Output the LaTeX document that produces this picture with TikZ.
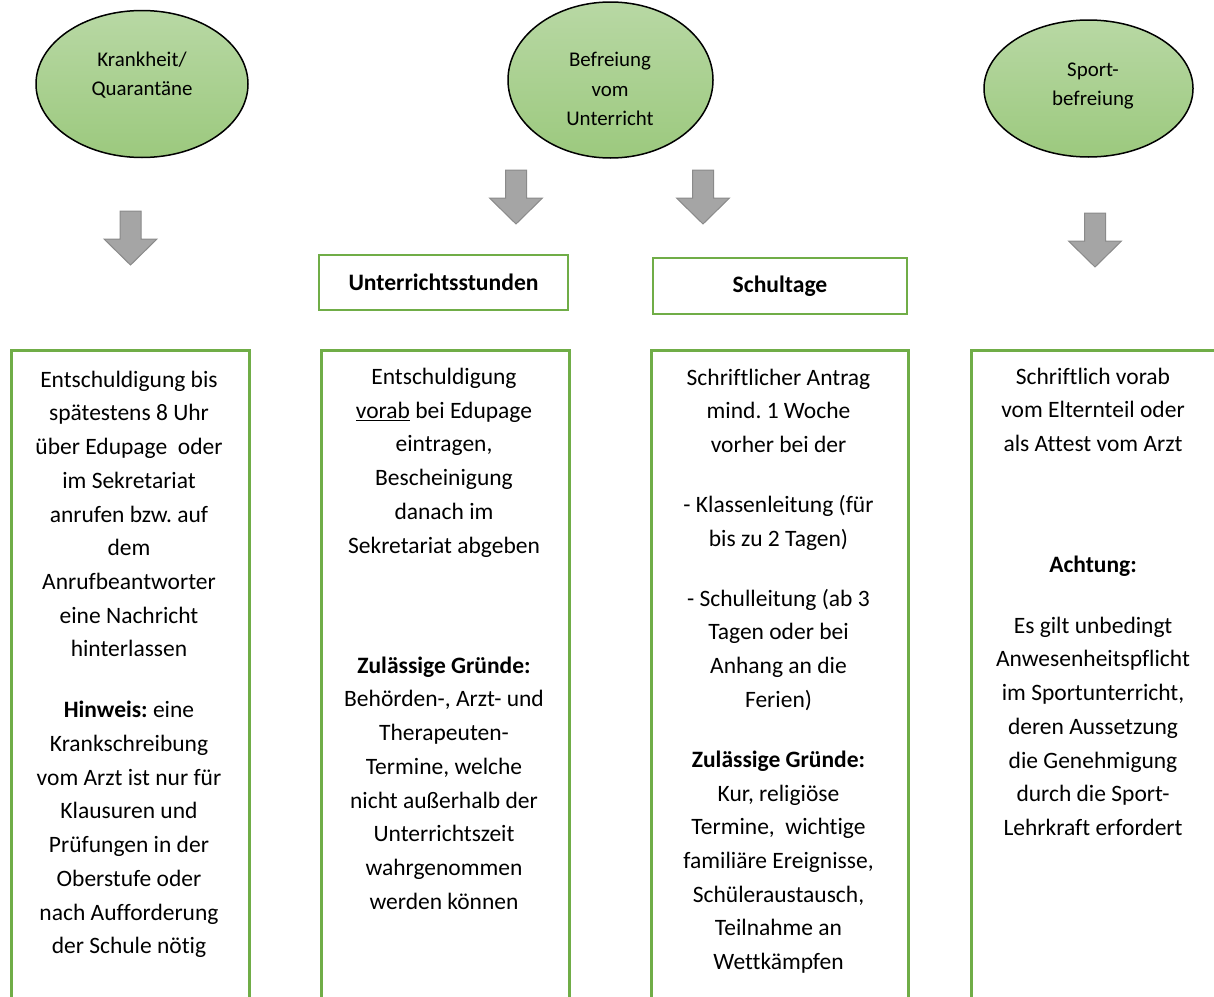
\documentclass[tikz,border=0pt]{standalone}
\usepackage{fontspec}
\setmainfont{Carlito}[Ligatures={NoCommon}]
\usetikzlibrary{shapes.geometric}
\definecolor{boxgreen}{HTML}{70AD47}
\definecolor{elltop}{HTML}{B8D8A4}
\definecolor{ellbot}{HTML}{9CC97E}
\definecolor{arrfill}{HTML}{A5A5A5}
\definecolor{arrdraw}{HTML}{8A8A8A}
\newcommand\fstrut{\rule{0pt}{20pt}}
\newcommand\estrut{\rule{0pt}{18pt}}
\frenchspacing
\begin{document}
\begin{tikzpicture}[x=1pt,y=-1pt,
  oval/.style={ellipse, draw=black, line width=1.5pt, top color=elltop, bottom color=ellbot, inner sep=0pt},
  ovaltext/.style={anchor=north, align=center, inner sep=0pt, font=\fontsize{20.9}{29.5}\selectfont},
  body/.style={anchor=north, align=center, inner sep=0pt, font=\fontsize{23.5}{33.7}\selectfont},
  headbox/.style={draw=boxgreen, line width=2.5pt, inner sep=0pt, font=\fontsize{23.6}{28}\selectfont\bfseries},
  panel/.style={draw=boxgreen, line width=2.5pt, inner sep=0pt, anchor=north west, minimum height=700pt},
  blockarrow/.pic={\draw[fill=arrfill, draw=arrdraw, line width=1pt, line join=miter]
     (-10.5,0) -- (10.5,0) -- (10.5,28) -- (26.5,28) -- (0,54) -- (-26.5,28) -- (-10.5,28) -- cycle;}
]
\useasboundingbox (0,0) rectangle (1214,996);
\clip (0,0) rectangle (1214,996);

% ellipses
\node[oval, minimum width=212pt, minimum height=147pt] (e1) at (142,84) {};
\node[oval, minimum width=205pt, minimum height=156pt] (e2) at (610.5,80) {};
\node[oval, minimum width=209pt, minimum height=137pt] (e3) at (1088.5,88.5) {};
\node[ovaltext] (t1) at (142,48) {\estrut Krankheit/\\Quarantäne};
\node[ovaltext] (t2) at (610,48.5) {\estrut Befreiung\\vom\\Unterricht};
\node[ovaltext] (t3) at (1093,58) {\estrut Sport-\\befreiung};

% block arrows
\pic (a1) at (130.5,211) {blockarrow};
\pic (a2) at (516,170) {blockarrow};
\pic (a3) at (703,170) {blockarrow};
\pic (a4) at (1095,213) {blockarrow};

% heading boxes
\node[headbox, minimum width=249pt, minimum height=55pt] (h1) at (443.5,282.5) {Unterrichtsstunden};
\node[headbox, minimum width=254pt, minimum height=56pt] (h2) at (780,286) {Schultage};

% panels
\node[panel, minimum width=238pt] (p1) at (10,349) {};
\node[panel, minimum width=248pt] (p2) at (320,349) {};
\node[panel, minimum width=257pt] (p3) at (650,349) {};
\node[panel, minimum width=250pt] (p4) at (970,349) {};

% panel 1 text
\node[body] (p1a) at (129,367) {\fstrut Entschuldigung bis\\spätestens 8 Uhr\\über Edupage\ \ oder\\im Sekretariat\\anrufen bzw. auf\\dem\\Anrufbeantworter\\eine Nachricht\\hinterlassen};
\node[body] (p1b) at (129,697.6) {\fstrut\textbf{Hinweis:} eine\\Krankschreibung\\vom Arzt ist nur für\\Klausuren und\\Prüfungen in der\\Oberstufe oder\\nach Aufforderung\\der Schule nötig};

% panel 2 text
\node[body] (p2a) at (444,364.3) {\fstrut Entschuldigung\\\underline{vorab} bei Edupage\\eintragen,\\Bescheinigung\\danach im\\Sekretariat abgeben};
\node[body] (p2b) at (444,653) {\fstrut\textbf{Zulässige Gründe:}\\Behörden-, Arzt- und\\Therapeuten-\\Termine, welche\\nicht außerhalb der\\Unterrichtszeit\\wahrgenommen\\werden können};

% panel 3 text
\node[body] (p3a) at (778.5,365) {\fstrut Schriftlicher Antrag\\mind. 1 Woche\\vorher bei der};
\node[body] (p3b) at (778.5,492.4) {\fstrut - Klassenleitung (für\\bis zu 2 Tagen)};
\node[body] (p3c) at (778.5,586) {\fstrut - Schulleitung (ab 3\\Tagen oder bei\\Anhang an die\\Ferien)};
\node[body] (p3d) at (778.5,747.2) {\fstrut\textbf{Zulässige Gründe:}\\Kur, religiöse\\Termine,\ \ wichtige\\familiäre Ereignisse,\\Schüleraustausch,\\Teilnahme an\\Wettkämpfen};

% panel 4 text
\node[body] (p4a) at (1093,364) {\fstrut Schriftlich vorab\\vom Elternteil oder\\als Attest vom Arzt};
\node[body] (p4b) at (1093,552) {\fstrut\textbf{Achtung:}};
\node[body] (p4c) at (1093,613) {\fstrut Es gilt unbedingt\\Anwesenheitspflicht\\im Sportunterricht,\\deren Aussetzung\\die Genehmigung\\durch die Sport-\\Lehrkraft erfordert};
\end{tikzpicture}
\end{document}
